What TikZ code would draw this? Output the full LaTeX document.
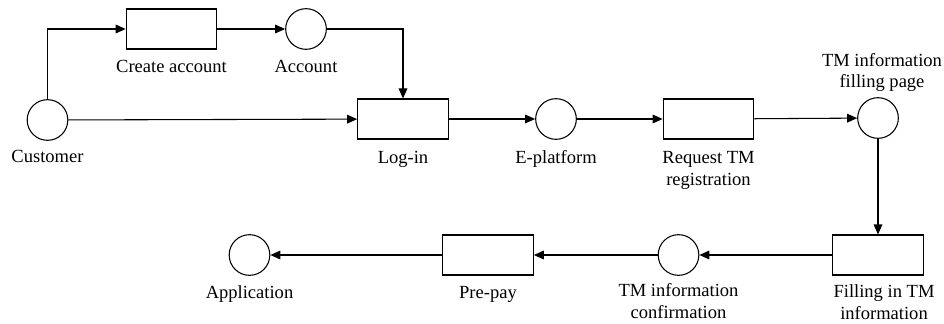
\documentclass[tikz,border=0pt]{standalone}
\usepackage{fontspec}
\setmainfont{Liberation Serif}
\usetikzlibrary{arrows.meta}
\begin{document}
\begin{tikzpicture}[x=0.75pt,y=-0.75pt,
  place/.style={circle,draw,line width=0.8pt,minimum size=30.5pt,inner sep=0pt},
  trans/.style={rectangle,draw,line width=0.8pt,minimum width=68pt,minimum height=30pt,inner sep=0pt},
  lbl/.style={font=\fontsize{13.9}{16.1}\selectfont,align=center,anchor=base,inner sep=0pt},
  arr/.style={line width=0.8pt,-{Triangle[length=7.5pt,width=6.5pt]}}]
\useasboundingbox (0,0) rectangle (944,324);

% places and transitions
\node[place] (cust)    at (47.5,120) {};
\node[trans] (create)  at (171.5,29) {};
\node[place] (acc)     at (306,29) {};
\node[trans] (login)   at (403,119) {};
\node[place] (eplat)   at (556,119) {};
\node[trans] (request) at (708.5,119) {};
\node[place] (tmfill)  at (878,118) {};
\node[trans] (filling) at (878,255) {};
\node[place] (tmconf)  at (678.5,255) {};
\node[trans] (prepay)  at (488,255) {};
\node[place] (app)     at (249.5,255) {};

% labels (base anchor sits on the last line's baseline)
\node[lbl] (lcust)    at (47.5,162) {Customer};
\node[lbl] (lcreate)  at (171.5,73) {Create account};
\node[lbl] (lacc)     at (306,73) {Account};
\node[lbl] (llogin)   at (403,163) {Log-in};
\node[lbl] (leplat)   at (556,163) {E-platform};
\node[lbl] (lrequest) at (708.5,185) {Request TM\\registration};
\node[lbl] (ltmfill)  at (882,88) {TM information\\filling page};
\node[lbl] (lfilling) at (884,319) {Filling in TM\\information};
\node[lbl] (ltmconf)  at (678.5,318) {TM information\\confirmation};
\node[lbl] (lprepay)  at (488,298) {Pre-pay};
\node[lbl] (lapp)     at (249.5,298) {Application};

% arcs
\draw[arr] (cust) |- (create);
\draw[arr] (create) -- (acc);
\draw[arr] (acc) -| (login);
\draw[arr] (cust) -- (login);
\draw[arr] (login) -- (eplat);
\draw[arr] (eplat) -- (request);
\draw[arr] (request) -- (tmfill);
\draw[arr] (tmfill) -- (filling);
\draw[arr] (filling) -- (tmconf);
\draw[arr] (tmconf) -- (prepay);
\draw[arr] (prepay) -- (app);
\end{tikzpicture}
\end{document}
